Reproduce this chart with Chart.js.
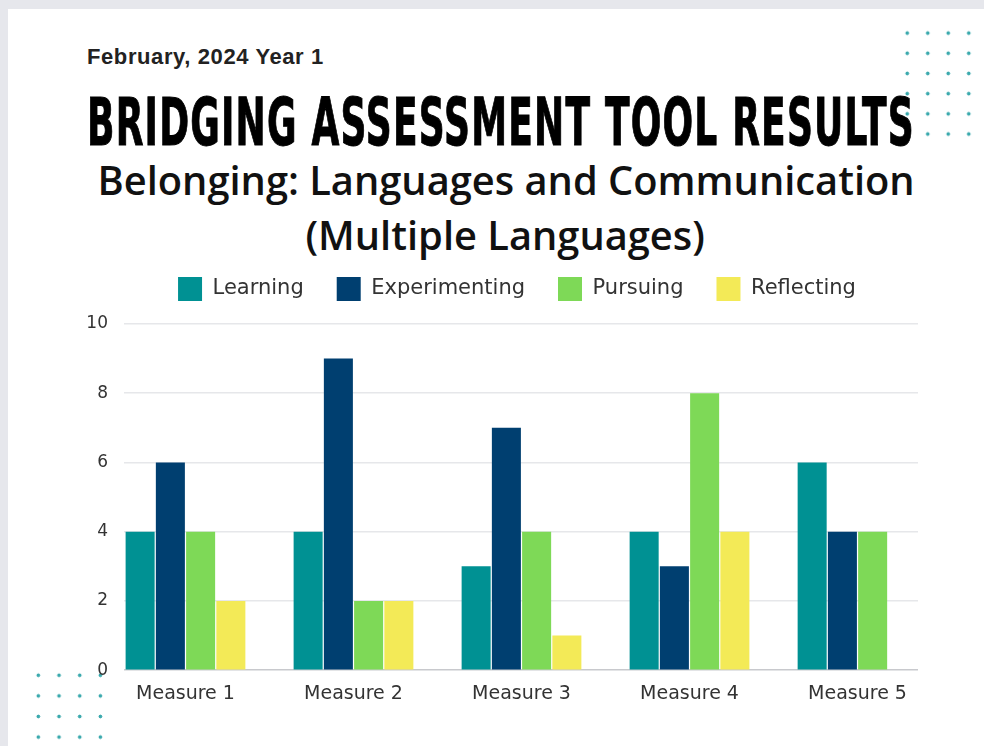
<!DOCTYPE html>
<html>
<head>
<meta charset="utf-8">
<script src="https://cdn.jsdelivr.net/npm/chart.js@4.4.1/dist/chart.umd.min.js"></script>
<style>
  html, body { margin: 0; padding: 0; }
  body { width: 984px; height: 746px; background: #e6e7ec; position: relative; overflow: hidden; }
  .card { position: absolute; left: 8px; top: 9px; right: 0; bottom: 0; background: #ffffff; }
  .dots { position: absolute; background-image: radial-gradient(circle, #3aa9ad 1.6px, transparent 2.2px); }
  .dots.tr { left: 897px; top: 23px; width: 82px; height: 122px; background-size: 20.5px 20.2px; }
  .dots.bl { left: 28px; top: 665px; width: 83px; height: 83px; background-size: 20.7px 20.6px; }
  .head { position: absolute; white-space: nowrap; color: #111; }
  #date { left: 87px; top: 46px; font: bold 22px "Liberation Sans", Arial, sans-serif; line-height: 1; letter-spacing: 0.6px; color: #222; }
  #title { left: 87px; top: 90px; font: bold 66px "DejaVu Sans Condensed", "DejaVu Sans", sans-serif; line-height: 1; transform-origin: 0 0; color: #000; -webkit-text-stroke: 1px #000; letter-spacing: 2px; }
  .sub { font: 600 36px "Open Sans", "Noto Sans", sans-serif; line-height: 1; }
  #sub1 { top: 160px; }
  #sub2 { top: 215px; }
  #wrap { position: absolute; left: 0; top: 232px; width: 984px; height: 498px; }
</style>
</head>
<body>
<div class="card"></div>
<div class="dots tr"></div>
<div class="dots bl"></div>
<div class="head" id="date">February, 2024 Year 1</div>
<div class="head" id="title">BRIDGING ASSESSMENT TOOL RESULTS</div>
<div class="head sub" id="sub1">Belonging: Languages and Communication</div>
<div class="head sub" id="sub2">(Multiple Languages)</div>
<div id="wrap"><canvas id="chart"></canvas></div>
<script>
const measures = ['Measure 1', 'Measure 2', 'Measure 3', 'Measure 4', 'Measure 5'];
const learning = [4, 4, 3, 4, 6];
const experimenting = [6, 9, 7, 3, 4];
const pursuing = [4, 2, 4, 8, 4];
const reflecting = [2, 2, 1, 4, 0];
const yTicks = [0, 2, 4, 6, 8, 10];

// stretch the headline to its box width, centre the subtitle lines
const title = document.getElementById('title');
title.style.transform = 'scaleX(' + (828 / title.offsetWidth) + ')';
function centre(id, cx) {
  const el = document.getElementById(id);
  el.style.left = (cx - el.offsetWidth / 2) + 'px';
}
const sub1 = document.getElementById('sub1');
sub1.style.fontSize = (36 * 818 / sub1.offsetWidth) + 'px';
document.getElementById('sub2').style.fontSize = sub1.style.fontSize;
centre('sub1', 506);
centre('sub2', 505);

const toPoints = arr => arr.map((v, i) => ({ x: i, y: v }));

// extra room under the legend, and nudge it right over the plot
const legendTweak = {
  id: 'legendTweak',
  beforeInit(chart) {
    const fit = chart.legend.fit;
    chart.legend.fit = function () {
      fit.bind(chart.legend)();
      this.height += 13;
    };
  },
  beforeDraw(chart) {
    chart.legend.left += 28;
    chart.legend.right += 28;
  }
};

new Chart(document.getElementById('chart'), {
  type: 'bar',
  data: {
    datasets: [
      { label: 'Learning', data: toPoints(learning), backgroundColor: '#009193' },
      { label: 'Experimenting', data: toPoints(experimenting), backgroundColor: '#003f70' },
      { label: 'Pursuing', data: toPoints(pursuing), backgroundColor: '#7ed957' },
      { label: 'Reflecting', data: toPoints(reflecting), backgroundColor: '#f3ea57' }
    ]
  },
  options: {
    responsive: true,
    maintainAspectRatio: false,
    animation: false,
    layout: { padding: { left: 60, right: 66, top: 12, bottom: 13 } },
    datasets: { bar: { categoryPercentage: 0.72, barPercentage: 0.96 } },
    plugins: {
      legend: {
        position: 'top',
        labels: {
          boxWidth: 24,
          boxHeight: 24,
          padding: 33,
          color: '#333',
          font: { family: '"DejaVu Sans", sans-serif', size: 21 }
        }
      },
      tooltip: { enabled: false }
    },
    scales: {
      x: {
        type: 'linear',
        offset: false,
        min: -0.366,
        max: 4.36,
        grid: { display: false, drawTicks: false },
        border: { display: false },
        afterBuildTicks: axis => { axis.ticks = measures.map((_, i) => ({ value: i })); },
        ticks: {
          padding: 12,
          color: '#333',
          font: { family: '"DejaVu Sans", sans-serif', size: 19 },
          maxRotation: 0,
          autoSkip: false,
          callback: value => measures[value]
        }
      },
      y: {
        min: 0,
        max: 10,
        afterFit: axis => { axis.width = 64; },
        afterBuildTicks: axis => { axis.ticks = yTicks.map(v => ({ value: v })); },
        grid: {
          drawTicks: false,
          lineWidth: 1.5,
          color: ctx => ctx.tick && ctx.tick.value === 0 ? '#c8c9cd' : '#e6e7ea'
        },
        border: { display: false },
        ticks: { padding: 16, color: '#333', font: { family: '"DejaVu Sans", sans-serif', size: 17 } }
      }
    }
  },
  plugins: [legendTweak]
});
</script>
</body>
</html>
